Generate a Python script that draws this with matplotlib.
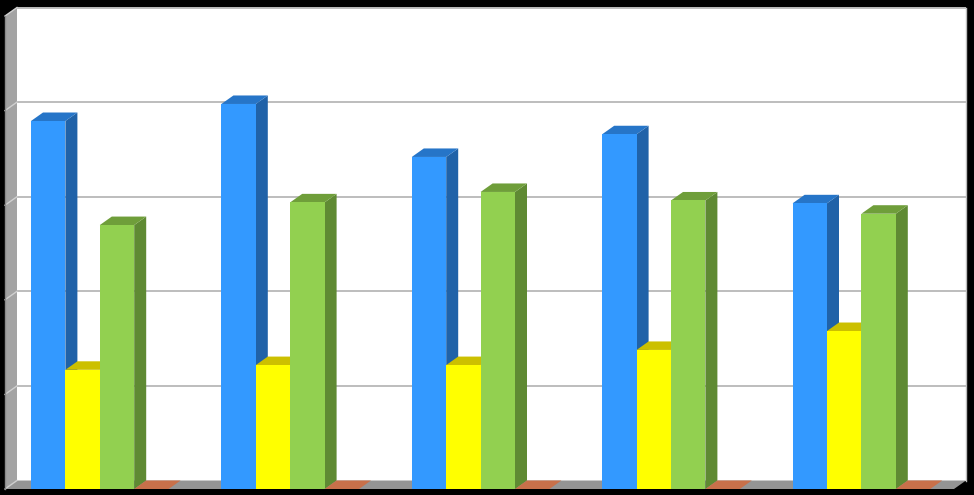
import matplotlib
matplotlib.use("Agg")
import matplotlib.pyplot as plt
from matplotlib.patches import Polygon

categories = ["1", "2", "3", "4", "5"]
blue = [3.89, 4.07, 3.51, 3.75, 3.02]
yellow = [1.26, 1.31, 1.31, 1.47, 1.67]
green = [2.79, 3.03, 3.14, 3.05, 2.91]
orange = [0, 0, 0, 0, 0]
series = [blue, yellow, green, orange]
fronts = ["#3399FF", "#FFFF00", "#92D050", "#C8704A"]
tops = ["#2675C8", "#CCC000", "#6F9E3A", "#C8704A"]
sides = ["#2062A8", "#C0B400", "#5F8A33", "#A85F3E"]
ymax = 5
W, H = 974, 495
PX_X, PX_Y = 190.4, 94.6     # pixels per category / per value unit
X0, Y0 = 5, 489              # pixel of the front plane origin
DX, DY = 12 / PX_X, 8.5 / PX_Y # 3D depth offset
BW = 34.4 / PX_X
GAP = 26 / PX_X
XEND = 949 / PX_X            # front-plane width of the plot

fig = plt.figure(figsize=(W / 100, H / 100), dpi=100, facecolor="black")
ax = fig.add_axes([0, 0, 1, 1])
ax.set_xlim(-X0 / PX_X, (W - X0) / PX_X)
ax.set_ylim(-(H - Y0) / PX_Y, Y0 / PX_Y)
ax.axis("off")
n = len(categories)

def poly(pts, color, z):
    ax.add_patch(Polygon(pts, closed=True, facecolor=color, edgecolor="none", zorder=z))

# walls and floor
poly([(DX, DY), (XEND + DX, DY), (XEND + DX, ymax + DY), (DX, ymax + DY)], "white", 1)
poly([(0, 0), (DX, DY), (DX, ymax + DY), (0, ymax)], "#A3A3A3", 1)
poly([(0, 0), (XEND, 0), (XEND + DX, DY), (DX, DY)], "#949494", 1)
for v in range(0, ymax + 1):
    if v > 0:
        ax.plot([DX, XEND + DX], [v + DY, v + DY], color="#BDBDBD", lw=1.4, zorder=2, solid_capstyle="butt")
    ax.plot([0, DX], [v, v + DY], color="#D0D0D0", lw=1, zorder=2)
ax.plot([XEND + DX, XEND + DX], [DY, ymax + DY], color="#BDBDBD", lw=1, zorder=2)
ax.plot([0, 0], [0, ymax], color="#8A8A8A", lw=1, zorder=2)

# bars
z = 3
for i in range(n):
    for s, vals in enumerate(series):
        v = vals[i]
        x0 = i + GAP + s * BW
        x1 = x0 + BW
        poly([(x1, 0), (x1 + DX, DY), (x1 + DX, v + DY), (x1, v)], sides[s], z)
        poly([(x0, v), (x1, v), (x1 + DX, v + DY), (x0 + DX, v + DY)], tops[s], z)
        if v > 0:
            ax.bar(x0, v, width=BW, align="edge", color=fronts[s], zorder=z + 0.5)
        z += 1

fig.savefig("out.png", dpi=100, facecolor="black")
